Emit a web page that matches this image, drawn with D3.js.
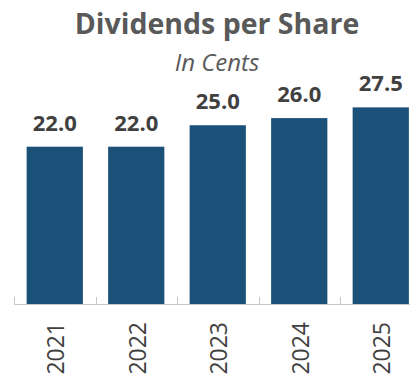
<!DOCTYPE html>
<html>
<head>
<meta charset="utf-8">
<script src="https://cdn.jsdelivr.net/npm/d3@7"></script>
<style>
  html, body { margin: 0; padding: 0; background: #fff; }
  svg { display: block; }
</style>
</head>
<body>
<svg id="chart" width="410" height="377"></svg>
<script>
// Dividends per share, in cents, by year
const years = ["2021", "2022", "2023", "2024", "2025"];
const dividends = [22.0, 22.0, 25.0, 26.0, 27.5];
const titleText = "Dividends per Share";
const subtitleText = "In Cents";

const W = 410, H = 377;
const baseY = 304;
const font = "'Open Sans', 'Noto Sans', sans-serif";

const svg = d3.select("#chart");

const x = d3.scaleBand()
  .domain(years)
  .range([14, 421.5])
  .paddingInner(0.31)
  .paddingOuter(0.155);

const y = d3.scaleLinear()
  .domain([0, 30])
  .range([baseY, baseY - 30 * 7.15]);

// Title and subtitle
svg.append("text")
  .attr("x", 217).attr("y", 34)
  .attr("text-anchor", "middle")
  .attr("font-family", font)
  .attr("font-weight", "bold")
  .attr("font-size", 28.5)
  .attr("fill", "#595959")
  .text(titleText);

svg.append("text")
  .attr("x", 217).attr("y", 71)
  .attr("text-anchor", "middle")
  .attr("font-family", font)
  .attr("font-style", "italic")
  .attr("font-size", 24)
  .attr("fill", "#595959")
  .text(subtitleText);

const data = years.map((yr, i) => ({ year: yr, value: dividends[i] }));

// Bars
svg.append("g").selectAll("rect")
  .data(data)
  .join("rect")
  .attr("x", d => x(d.year))
  .attr("y", d => y(d.value))
  .attr("width", x.bandwidth())
  .attr("height", d => y(0) - y(d.value))
  .attr("fill", "#1b5078");

// Value labels
svg.append("g").selectAll("text")
  .data(data)
  .join("text")
  .attr("x", d => x(d.year) + x.bandwidth() / 2)
  .attr("y", d => y(d.value) - 16)
  .attr("text-anchor", "middle")
  .attr("font-family", font)
  .attr("font-weight", "bold")
  .attr("font-size", 22)
  .attr("fill", "#404040")
  .text(d => d.value.toFixed(1));

// Category axis: baseline with inside ticks at band boundaries
const axisG = svg.append("g");
axisG.append("line")
  .attr("x1", 14).attr("x2", W)
  .attr("y1", baseY + 0.5).attr("y2", baseY + 0.5)
  .attr("stroke", "#c8c8c8").attr("stroke-width", 1);

axisG.selectAll("line.tick")
  .data(years)
  .join("line")
  .attr("class", "tick")
  .attr("x1", d => Math.round(x(d) - x.step() * x.paddingInner() / 2) + 0.5)
  .attr("x2", d => Math.round(x(d) - x.step() * x.paddingInner() / 2) + 0.5)
  .attr("y1", baseY - 7).attr("y2", baseY)
  .attr("stroke", "#c8c8c8").attr("stroke-width", 1);

// Rotated year labels
axisG.selectAll("text")
  .data(years)
  .join("text")
  .attr("transform", d => `translate(${x(d) + x.bandwidth() / 2 + 1},322) rotate(-90)`)
  .attr("text-anchor", "end")
  .attr("dy", "0.36em")
  .attr("font-family", font)
  .attr("font-size", 23)
  .attr("fill", "#404040")
  .text(d => d);
</script>
</body>
</html>
